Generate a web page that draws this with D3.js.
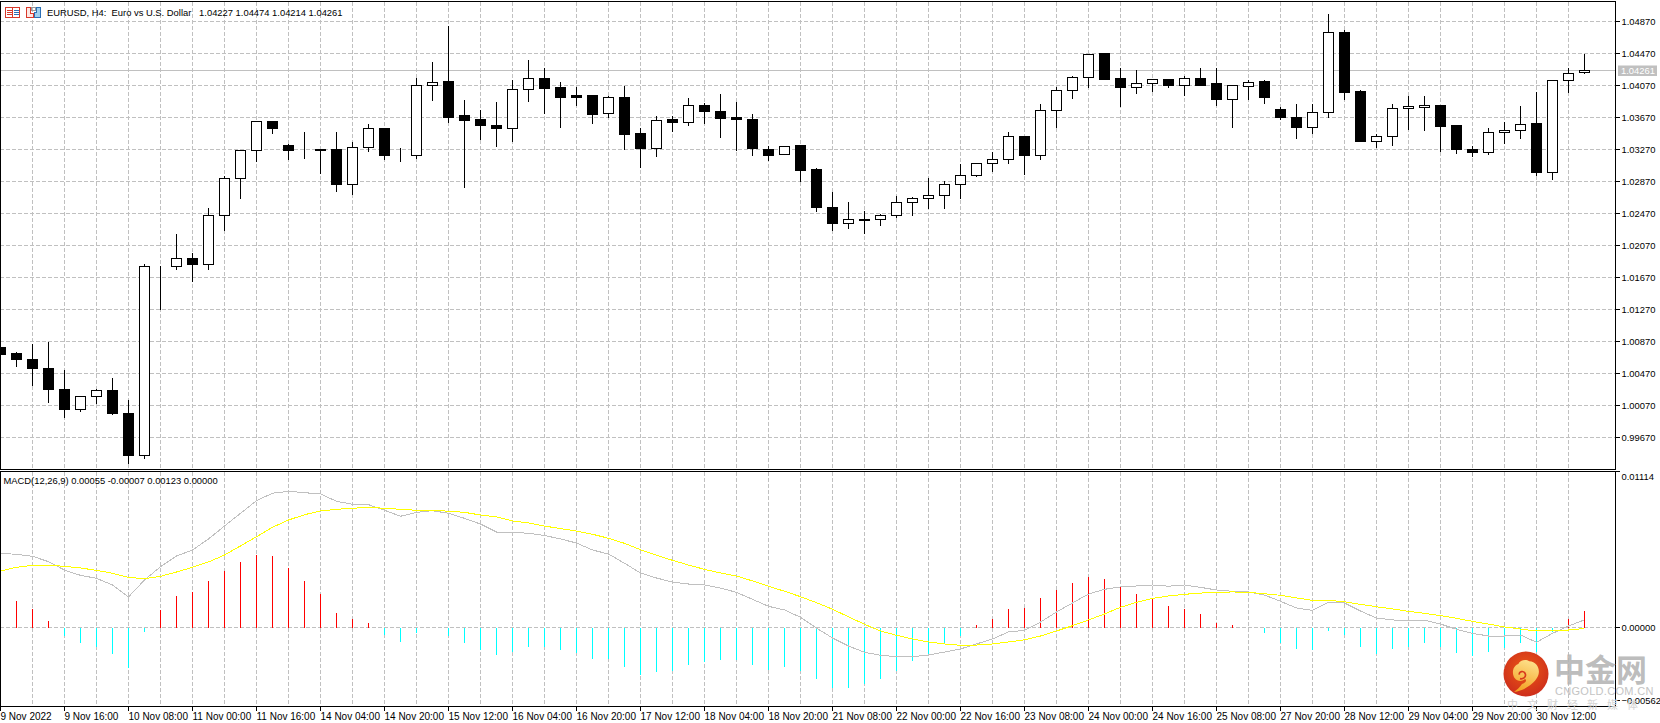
<!DOCTYPE html>
<html>
<head>
<meta charset="utf-8">
<script src="https://cdnjs.cloudflare.com/ajax/libs/d3/7.8.5/d3.min.js"></script>
<style>
html,body{margin:0;padding:0;background:#fff;overflow:hidden}
svg{display:block}
text{font-family:"Liberation Sans",Arial,sans-serif;font-size:9.4px;fill:#000}
</style>
</head>
<body>
<svg id="c" width="1660" height="723"></svg>
<script>
const title = "EURUSD, H4:  Euro vs U.S. Dollar   1.04227 1.04474 1.04214 1.04261";
const macdTitle = "MACD(12,26,9) 0.00055 -0.00007 0.00123 0.00000";
const lastPrice = 1.04261;
const priceTicks = [1.0487,1.0447,1.0407,1.0367,1.0327,1.0287,1.0247,1.0207,1.0167,1.0127,1.0087,1.0047,1.0007,0.9967];
const macdTicks = [0.01114,0,-0.00562];
const timeLabels = ["9 Nov 2022","9 Nov 16:00","10 Nov 08:00","11 Nov 00:00","11 Nov 16:00","14 Nov 04:00","14 Nov 20:00","15 Nov 12:00","16 Nov 04:00","16 Nov 20:00","17 Nov 12:00","18 Nov 04:00","18 Nov 20:00","21 Nov 08:00","22 Nov 00:00","22 Nov 16:00","23 Nov 08:00","24 Nov 00:00","24 Nov 16:00","25 Nov 08:00","27 Nov 20:00","28 Nov 12:00","29 Nov 04:00","29 Nov 20:00","30 Nov 12:00"];

const opens = [1.00798,1.00723,1.00648,1.00535,1.00273,1.00018,1.00185,1.00260,0.99973,0.99443,
1.01814,1.01810,1.01910,1.01830,1.02448,1.02910,1.03260,1.03623,1.03314,1.03260,
1.03276,1.03276,1.02835,1.03298,1.03535,1.03198,1.03198,1.04073,1.04114,1.03689,
1.03639,1.03576,1.03535,1.04023,1.04160,1.04039,1.03939,1.03939,1.03718,1.03923,
1.03464,1.03280,1.03639,1.03605,1.03826,1.03751,1.03664,1.03639,1.03276,1.03210,
1.03314,1.03014,1.02551,1.02348,1.02401,1.02398,1.02448,1.02610,1.02660,1.02698,
1.02835,1.02948,1.03098,1.03148,1.03435,1.03193,1.03760,1.04010,1.04173,1.04468,
1.04160,1.04048,1.04098,1.04139,1.04068,1.04160,1.04089,1.03898,1.04055,1.04114,
1.03776,1.03676,1.03543,1.03730,1.04735,1.03989,1.03368,1.03435,1.03785,1.03798,
1.03823,1.03576,1.03276,1.03230,1.03485,1.03510,1.03589,1.02980,1.04135,1.04227];
const highs = [1.00814,1.00739,1.00848,1.00864,1.00526,1.00201,1.00285,1.00426,1.00139,1.01848,
1.01826,1.02214,1.01985,1.02539,1.02948,1.03264,1.03626,1.03630,1.03339,1.03501,
1.03283,1.03501,1.03364,1.03589,1.03548,1.03289,1.04176,1.04376,1.04826,1.03901,
1.03776,1.03876,1.04151,1.04389,1.04289,1.04126,1.04055,1.03948,1.03948,1.04064,
1.03551,1.03698,1.03698,1.03914,1.03860,1.03964,1.03864,1.03714,1.03326,1.03326,
1.03323,1.03039,1.02739,1.02626,1.02510,1.02464,1.02689,1.02680,1.02914,1.02885,
1.03093,1.03101,1.03251,1.03489,1.03439,1.03839,1.04055,1.04189,1.04473,1.04485,
1.04289,1.04276,1.04148,1.04148,1.04189,1.04289,1.04289,1.04076,1.04139,1.04139,
1.03805,1.03839,1.03851,1.04964,1.04776,1.04026,1.03464,1.03839,1.03939,1.03939,
1.03835,1.03585,1.03314,1.03539,1.03614,1.03814,1.04001,1.04148,1.04298,1.04474];
const lows = [1.00689,1.00555,1.00326,1.00105,0.99918,1.00001,1.00089,0.99960,0.99339,0.99405,
1.01276,1.01768,1.01618,1.01768,1.02255,1.02655,1.03118,1.03464,1.03139,1.03155,
1.02964,1.02743,1.02705,1.03243,1.03139,1.03118,1.03155,1.03880,1.03605,1.02793,
1.03389,1.03305,1.03368,1.03868,1.03714,1.03543,1.03818,1.03589,1.03676,1.03268,
1.03043,1.03180,1.03493,1.03568,1.03593,1.03418,1.03255,1.03193,1.03130,1.03205,
1.02868,1.02493,1.02255,1.02280,1.02214,1.02318,1.02414,1.02443,1.02530,1.02530,
1.02655,1.02930,1.02993,1.03093,1.02955,1.03139,1.03539,1.03905,1.04043,1.04139,
1.03805,1.03968,1.04001,1.04051,1.03951,1.04064,1.03818,1.03539,1.03901,1.03843,
1.03639,1.03405,1.03464,1.03664,1.03901,1.03368,1.03293,1.03326,1.03514,1.03505,
1.03243,1.03218,1.03180,1.03205,1.03343,1.03405,1.02943,1.02893,1.03980,1.04214];
const closes = [1.00705,1.00643,1.00530,1.00268,1.00018,1.00185,1.00260,0.99968,0.99443,1.01810,
1.01814,1.01910,1.01830,1.02448,1.02910,1.03260,1.03623,1.03530,1.03255,1.03260,
1.03255,1.02830,1.03298,1.03535,1.03193,1.03198,1.04073,1.04110,1.03676,1.03630,
1.03568,1.03530,1.04023,1.04160,1.04030,1.03918,1.03918,1.03705,1.03923,1.03455,
1.03280,1.03635,1.03605,1.03823,1.03743,1.03655,1.03643,1.03280,1.03193,1.03310,
1.03005,1.02543,1.02343,1.02398,1.02380,1.02448,1.02610,1.02660,1.02698,1.02835,
1.02948,1.03098,1.03148,1.03435,1.03193,1.03760,1.04010,1.04173,1.04460,1.04151,
1.04043,1.04098,1.04139,1.04064,1.04160,1.04076,1.03893,1.04073,1.04110,1.03918,
1.03668,1.03543,1.03735,1.04735,1.03980,1.03368,1.03435,1.03785,1.03810,1.03823,
1.03555,1.03268,1.03230,1.03485,1.03510,1.03585,1.02980,1.04135,1.04223,1.04261];

const histogram = [0.00240,0.00197,0.00133,0.00047,-0.00059,-0.00111,-0.00133,-0.00183,-0.00285,-0.00032,
0.00126,0.00226,0.00255,0.00334,0.00412,0.00477,0.00527,0.00513,0.00427,0.00334,
0.00247,0.00111,0.00061,0.00039,-0.00047,-0.00097,-0.00039,0,-0.00054,-0.00104,
-0.00156,-0.00197,-0.00169,-0.00133,-0.00133,-0.00161,-0.00176,-0.00219,-0.00219,-0.00283,
-0.00336,-0.00319,-0.00305,-0.00262,-0.00247,-0.00233,-0.00226,-0.00262,-0.00298,-0.00283,
-0.00305,-0.00369,-0.00427,-0.00427,-0.00405,-0.00369,-0.00305,-0.00240,-0.00183,-0.00118,
-0.00054,0.00018,0.00068,0.00133,0.00142,0.00212,0.00276,0.00326,0.00369,0.00348,
0.00291,0.00247,0.00212,0.00161,0.00133,0.00097,0.00039,0.00018,0,-0.00039,
-0.00104,-0.00154,-0.00161,-0.00025,-0.00047,-0.00133,-0.00183,-0.00154,-0.00133,-0.00111,
-0.00133,-0.00176,-0.00204,-0.00169,-0.00140,-0.00111,-0.00169,-0.00032,0.00068,0.00123];
const macdLine = [0.00532,0.00525,0.00511,0.00472,0.00412,0.00374,0.00353,0.00305,0.00219,0.00341,
0.00436,0.00513,0.00556,0.00635,0.00728,0.00819,0.00910,0.00963,0.00977,0.00967,
0.00958,0.00905,0.00884,0.00881,0.00841,0.00798,0.00826,0.00838,0.00819,0.00783,
0.00742,0.00685,0.00683,0.00676,0.00660,0.00635,0.00606,0.00556,0.00527,0.00461,
0.00391,0.00355,0.00326,0.00312,0.00305,0.00283,0.00252,0.00202,0.00152,0.00126,
0.00073,-0.00004,-0.00075,-0.00133,-0.00178,-0.00199,-0.00209,-0.00209,-0.00197,-0.00176,
-0.00154,-0.00118,-0.00082,-0.00032,-0.00020,0.00039,0.00111,0.00176,0.00240,0.00274,
0.00291,0.00298,0.00305,0.00296,0.00305,0.00288,0.00269,0.00260,0.00255,0.00233,
0.00188,0.00140,0.00123,0.00181,0.00176,0.00118,0.00068,0.00054,0.00052,0.00052,
0.00025,-0.00013,-0.00042,-0.00061,-0.00061,-0.00054,-0.00106,-0.00042,0.00011,0.00055];
const signalLine = [0.00405,0.00432,0.00446,0.00446,0.00439,0.00427,0.00410,0.00389,0.00360,0.00350,
0.00367,0.00398,0.00432,0.00470,0.00520,0.00585,0.00651,0.00719,0.00771,0.00809,
0.00836,0.00848,0.00855,0.00862,0.00855,0.00848,0.00841,0.00841,0.00834,0.00826,
0.00807,0.00793,0.00764,0.00750,0.00728,0.00709,0.00692,0.00669,0.00640,0.00604,
0.00558,0.00518,0.00482,0.00448,0.00417,0.00391,0.00369,0.00334,0.00296,0.00260,
0.00221,0.00178,0.00131,0.00077,0.00023,-0.00025,-0.00056,-0.00082,-0.00104,-0.00118,
-0.00128,-0.00126,-0.00118,-0.00104,-0.00088,-0.00061,-0.00025,0.00013,0.00054,0.00097,
0.00145,0.00181,0.00209,0.00226,0.00238,0.00247,0.00252,0.00255,0.00252,0.00242,
0.00231,0.00212,0.00195,0.00195,0.00185,0.00166,0.00149,0.00133,0.00116,0.00102,
0.00085,0.00066,0.00044,0.00025,0.00004,-0.00011,-0.00025,-0.00025,-0.00018,-0.00007];

const frameRight = 1615.5, mainTop = 1.5, mainBottom = 469.5, subTop = 471.5, subBottom = 706.5;
const GRID = "#c0c0c0", DASH = "4,2";
const crisp = v => Math.floor(v) + 0.5;
const svg = d3.select("#c");

const x = d3.scaleLinear().domain([0, opens.length - 1]).range([0.5, 1584.5]);
const y = d3.scaleLinear().domain([1.0487, 0.9967]).range([21.5, 437.5]);
const yM = d3.scaleLinear().domain([0.01114, -0.00562]).range([472.2, 705.85]);

const defs = svg.append("defs");
defs.append("clipPath").attr("id", "cm").append("rect").attr("x", 0).attr("y", mainTop).attr("width", frameRight).attr("height", mainBottom - mainTop);
defs.append("clipPath").attr("id", "cs").append("rect").attr("x", 0).attr("y", subTop).attr("width", frameRight).attr("height", subBottom - subTop);
const grad = defs.append("radialGradient").attr("id", "logoG").attr("cx", "0.5").attr("cy", "0.4").attr("r", "0.65");
grad.append("stop").attr("offset", "0").attr("stop-color", "#ec5a14");
grad.append("stop").attr("offset", "1").attr("stop-color", "#cb2a1c");
const grad2 = defs.append("linearGradient").attr("id", "logoY").attr("x1", "0.6").attr("y1", "0").attr("x2", "0.3").attr("y2", "1");
grad2.append("stop").attr("offset", "0").attr("stop-color", "#fde08a");
grad2.append("stop").attr("offset", "1").attr("stop-color", "#f4a020");

// grid
const gridIdx = d3.range(2, 100, 2);
const gridG = svg.append("g").attr("stroke", GRID).attr("stroke-dasharray", DASH).attr("fill", "none").attr("shape-rendering", "crispEdges");
gridG.selectAll("line.v1").data(gridIdx).join("line").attr("class", "v1").attr("x1", d => x(d)).attr("x2", d => x(d)).attr("y1", mainTop).attr("y2", mainBottom);
gridG.selectAll("line.v2").data(gridIdx).join("line").attr("class", "v2").attr("x1", d => x(d)).attr("x2", d => x(d)).attr("y1", subTop).attr("y2", subBottom);
gridG.selectAll("line.h").data(priceTicks).join("line").attr("class", "h").attr("x1", 0).attr("x2", frameRight).attr("y1", d => crisp(y(d))).attr("y2", d => crisp(y(d)));
gridG.append("line").attr("x1", 0).attr("x2", frameRight).attr("y1", crisp(yM(0))).attr("y2", crisp(yM(0)));

// last price line
svg.append("line").attr("x1", 0).attr("x2", frameRight).attr("y1", crisp(y(lastPrice))).attr("y2", crisp(y(lastPrice)))
  .attr("stroke", GRID).attr("shape-rendering", "crispEdges");

// candles
const idx = d3.range(opens.length);
const cg = svg.append("g").attr("clip-path", "url(#cm)").attr("shape-rendering", "crispEdges");
cg.selectAll("line.w").data(idx).join("line").attr("class", "w")
  .attr("x1", i => x(i)).attr("x2", i => x(i))
  .attr("y1", i => crisp(y(highs[i]))).attr("y2", i => crisp(y(lows[i])) + 0.5)
  .attr("stroke", "#000");
cg.selectAll("rect.b").data(idx).join("rect").attr("class", "b")
  .attr("x", i => x(i) - 5).attr("width", 10)
  .attr("y", i => crisp(y(Math.max(opens[i], closes[i]))))
  .attr("height", i => crisp(y(Math.min(opens[i], closes[i]))) - crisp(y(Math.max(opens[i], closes[i]))))
  .attr("fill", i => closes[i] > opens[i] ? "#fff" : "#000").attr("stroke", "#000");

// MACD histogram
const sg = svg.append("g").attr("clip-path", "url(#cs)");
sg.selectAll("rect.h").data(idx).join("rect").attr("class", "h")
  .attr("shape-rendering", "crispEdges")
  .attr("x", i => x(i) - 0.5).attr("width", 1)
  .attr("y", i => Math.min(crisp(yM(histogram[i])), crisp(yM(0))))
  .attr("height", i => Math.abs(crisp(yM(histogram[i])) - crisp(yM(0))))
  .attr("fill", i => histogram[i] >= 0 ? "#ff0000" : "#00ffff");
const line = d3.line().x((d, i) => x(i)).y(d => yM(d));
sg.append("path").datum(macdLine).attr("d", line).attr("fill", "none").attr("stroke", "#c0c0c0").attr("stroke-width", 1).attr("shape-rendering", "crispEdges");
sg.append("path").datum(signalLine).attr("d", line).attr("fill", "none").attr("stroke", "#ffff00").attr("stroke-width", 1).attr("shape-rendering", "crispEdges");

// frames
const frames = svg.append("g").attr("fill", "none").attr("stroke", "#000").attr("shape-rendering", "crispEdges");
frames.append("path").attr("d", `M0.5,${mainTop}H${frameRight}V${mainBottom}H0.5Z`);
frames.append("path").attr("d", `M0.5,${subTop}H${frameRight}V${subBottom}H0.5Z`);

// price axis
const fmt5 = d3.format(".5f");
const axP = d3.axisRight(y).tickValues(priceTicks).tickFormat(fmt5).tickSize(4).tickPadding(2);
const gP = svg.append("g").attr("transform", `translate(${frameRight},0)`).call(axP);
gP.select(".domain").remove();
gP.attr("font-family", null).attr("font-size", null);
gP.selectAll(".tick").attr("transform", d => `translate(0,${crisp(y(d))})`);
gP.selectAll("line").attr("stroke", "#000").attr("shape-rendering", "crispEdges");

// MACD axis
const axM = d3.axisRight(yM).tickValues(macdTicks).tickFormat(fmt5).tickSize(4).tickPadding(2);
const gM = svg.append("g").attr("transform", `translate(${frameRight},0)`).call(axM);
gM.select(".domain").remove();
gM.attr("font-family", null).attr("font-size", null);
gM.selectAll(".tick").attr("transform", d => `translate(0,${d === 0 ? crisp(yM(0)) : d > 0 ? 471.5 : 700.5})`);
gM.selectAll("text").attr("dy", d => d > 0 ? "0.85em" : "0.32em");
gM.selectAll("line").attr("stroke", "#000").attr("shape-rendering", "crispEdges");

// time axis
const xTime = d3.scaleLinear().domain([0, timeLabels.length - 1]).range([0.5, 1536.5]);
const axT = d3.axisBottom(xTime).tickValues(d3.range(timeLabels.length)).tickFormat(i => timeLabels[i]).tickSize(4).tickPadding(2);
const gT = svg.append("g").attr("transform", `translate(0,${subBottom})`).call(axT);
gT.select(".domain").remove();
gT.attr("font-family", null).attr("font-size", null);
gT.selectAll(".tick").attr("transform", d => `translate(${xTime(d)},0)`);
gT.selectAll("line").attr("stroke", "#000").attr("shape-rendering", "crispEdges");
gT.selectAll("text").attr("text-anchor", "start").attr("x", 0).attr("dy", "0.71em").style("font-size", "10px");

// last price tag
svg.append("rect").attr("x", 1618).attr("y", crisp(y(lastPrice)) - 5).attr("width", 39).attr("height", 10.5).attr("fill", "#c0c0c0");
svg.append("text").attr("x", 1621).attr("y", crisp(y(lastPrice))).attr("dy", "0.35em").style("fill", "#fff").text(fmt5(lastPrice));

// titles
svg.append("text").attr("x", 47).attr("y", 12.5).attr("dy", "0.35em").style("white-space", "pre").text(title);
svg.append("text").attr("x", 3.5).attr("y", 481).attr("dy", "0.35em").text(macdTitle);

// header icons
const ic = svg.append("g").attr("shape-rendering", "crispEdges").attr("fill", "none");
ic.append("rect").attr("x", 5.5).attr("y", 7.5).attr("width", 14).attr("height", 10).attr("stroke", "#d8392b").attr("fill", "#fff");
ic.append("line").attr("x1", 12.5).attr("x2", 12.5).attr("y1", 7.5).attr("y2", 17.5).attr("stroke", "#d8392b");
[10.5, 12.5, 14.5].forEach(v => {
  ic.append("line").attr("x1", 7).attr("x2", 12).attr("y1", v).attr("y2", v).attr("stroke", "#d8392b");
  ic.append("line").attr("x1", 14).attr("x2", 19).attr("y1", v).attr("y2", v).attr("stroke", "#2b6fb5");
});
ic.append("path").attr("d", "M26.5,7.5H30.5V13.5H33.5V17.5H26.5Z").attr("stroke", "#d8392b").attr("fill", "#fde8e4");
ic.append("path").attr("d", "M34.5,12.5H36.5V7.5H40.5V17.5H34.5Z").attr("stroke", "#2b6fb5").attr("fill", "#9fd0ee");
ic.append("rect").attr("x", 31.5).attr("y", 7.5).attr("width", 4).attr("height", 3).attr("stroke", "#999");

// watermark
const wm = svg.append("g");
wm.append("circle").attr("cx", 1526).attr("cy", 674).attr("r", 22.5).attr("fill", "url(#logoG)");
const sw = wm.append("g").attr("transform", "translate(1500,648) scale(0.3333)");
sw.append("path").attr("d", "M42,132 C70,128 100,110 112,88 C124,66 112,42 88,40 C78,32 60,36 55,48 C42,52 36,68 40,82 C44,98 62,104 74,94 C84,86 82,70 70,68 C66,80 58,78 60,90 C76,86 88,100 66,108 C60,118 50,126 42,132Z")
  .attr("fill", "url(#logoY)");
sw.append("path").attr("d", "M58,80 C56,70 72,66 76,78 C79,88 68,94 60,92").attr("fill", "none").attr("stroke", "#d8391c").attr("stroke-width", 5);
wm.append("text").attr("x", 1554).attr("y", 680.5).style("font-size", "31px").style("font-family", "'Noto Sans CJK SC'").style("font-weight", "700").style("fill", "#b4b4b4").style("fill-opacity", 0.9).text("中金网");
wm.append("text").attr("x", 1555).attr("y", 695).style("font-size", "11px").style("letter-spacing", "0.3px").style("fill", "#c4c4c4").text("CNGOLD.COM.CN");
wm.append("text").attr("x", 1507).attr("y", 709).style("font-size", "11px").style("font-family", "'Noto Sans CJK SC'").style("letter-spacing", "9px").style("fill", "#d4d4d4").text("中文财经新媒体");
</script>
</body>
</html>
